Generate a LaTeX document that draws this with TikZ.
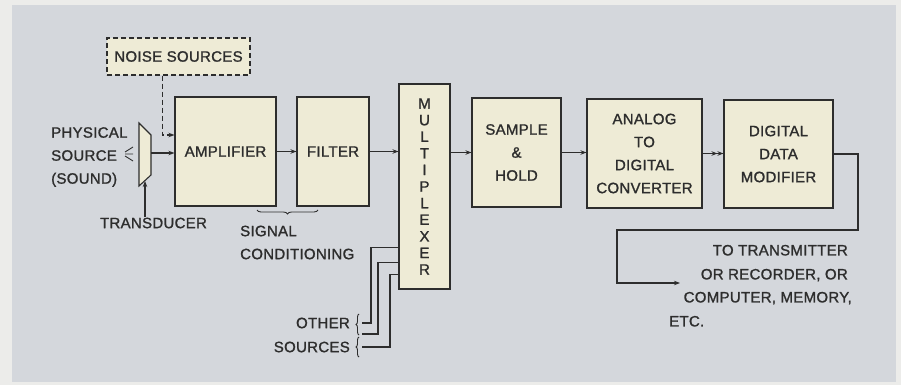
\documentclass[tikz,border=0pt]{standalone}
\usepackage{fontspec}
\setmainfont{Liberation Sans}[LetterSpace=2, FakeBold=1.3]
\usepackage{tikz}
\usetikzlibrary{arrows.meta,positioning,decorations.pathreplacing,calc}
\definecolor{paper}{RGB}{236,236,234}
\definecolor{panel}{RGB}{212,215,220}
\definecolor{cream}{RGB}{238,235,214}
\definecolor{ink}{RGB}{45,45,45}
\tikzset{
	block/.style={
		draw=ink, rectangle, fill=cream, line width=1.1pt,
		inner sep=0pt, text=ink, align=center,
		font=\fontsize{15}{23}\selectfont
	},
	noise_block/.style={block, dash pattern=on 5pt off 3pt},
	caption/.style={
		inner sep=0pt, text=ink,
		font=\fontsize{15}{23}\selectfont
	},
	wire/.style={draw=ink, line width=1.1pt},
	sig_arrow/.style={wire, -{Stealth[length=6pt,width=4.5pt]}},
	dig_arrow/.style={wire, -{Stealth[length=6pt,width=4.5pt]Stealth[length=6pt,width=4.5pt]}},
	brace_line/.style={draw=ink, line width=0.9pt, decorate}
}
\begin{document}
\begin{tikzpicture}[x=1pt,y=-1pt]
	\useasboundingbox (0,0) rectangle (901,385);
	\fill[paper] (0,0) rectangle (901,385);
	\fill[panel] (12,5) rectangle (896,382);

	% blocks
	\node[noise_block, minimum width=143, minimum height=37] (noise) at (178.5,56.5) {NOISE SOURCES};
	\node[block, minimum width=101, minimum height=109] (amp) at (225.5,151.5) {AMPLIFIER};
	\node[block, minimum width=72, minimum height=109] (filt) at (333,151.5) {FILTER};
	\node[block, minimum width=51, minimum height=205, font=\fontsize{15}{16.6}\selectfont] (mux) at (424.5,186.5)
		{M\\U\\L\\T\\I\\P\\L\\E\\X\\E\\R};
	\node[block, minimum width=89, minimum height=109] (sh) at (516.5,152.5) {SAMPLE\\\&\\HOLD};
	\node[block, minimum width=115, minimum height=109] (adc) at (644.5,153.5) {ANALOG\\TO\\DIGITAL\\CONVERTER};
	\node[block, minimum width=109, minimum height=108] (ddm) at (778.5,154) {DIGITAL\\DATA\\MODIFIER};

	% transducer
	\draw[wire, fill=cream] (139,123) -- (151,135) -- (151,175) -- (139,186) -- cycle;
	\coordinate (tdr) at (151,153);
	\coordinate (tdb) at (145,181);
	\draw[wire, line width=0.9pt] (133,147) -- (125,152) (125,154) -- (133,154) (125,156) -- (133,161);

	% labels
	\node[caption, anchor=north west, align=left] (phys) at (51,127) {PHYSICAL\\SOURCE\\(SOUND)};
	\node[caption] (tdlabel) at (153.5,223) {TRANSDUCER};
	\node[caption, anchor=north west, align=left] (cond) at (240,225.5) {SIGNAL\\CONDITIONING};
	\node[caption, anchor=north east, align=right, font=\fontsize{15}{24}\selectfont] (other) at (350,317.5) {OTHER\\SOURCES};
	\node[caption, anchor=base east] (out1) at (848,255.4) {TO TRANSMITTER};
	\node[caption, anchor=base east] (out2) at (848,279.4) {OR RECORDER, OR};
	\node[caption, anchor=base east] (out3) at (852,302.4) {COMPUTER, MEMORY,};
	\node[caption, anchor=base west] (out4) at (669,326.4) {ETC.};

	% signal path
	\path (noise.south west) ++(56,0) coordinate (nz);
	\draw[sig_arrow, dash pattern=on 5pt off 3pt] (nz) |- ($(amp.west)+(0,-16.5)$);
	\draw[sig_arrow] (tdr) -- (amp.west |- tdr);
	\draw[sig_arrow] (tdlabel.north -| tdb) -- (tdb);
	\draw[sig_arrow] (amp) -- (filt);
	\draw[sig_arrow] (filt.east) -- (filt.east -| mux.west);
	\draw[sig_arrow] (mux.east |- sh) -- (sh);
	\draw[sig_arrow] (sh.east) -- (sh.east -| adc.west);
	\draw[dig_arrow] (adc.east) -- (adc.east -| ddm.west);
	\coordinate (outend) at (680,283);
	\draw[sig_arrow] (ddm.east) -| (858,230) -| (617,283) -- (outend);

	% other sources
	\path (mux.south west) ++(0,-42) coordinate (m1) ++(0,15) coordinate (m2) ++(0,12) coordinate (m3);
	\coordinate (os1) at (362,323);
	\coordinate (os2) at (362,334);
	\coordinate (os3) at (362,347);
	\draw[wire] (os1) -- ++(9,0) |- (m1);
	\draw[wire] (os2) -- ++(16,0) |- (m2);
	\draw[wire] (os3) -- ++(28,0) |- (m3);
	\draw[brace_line, decoration={brace, amplitude=3pt}] (359,335) -- (359,314);
	\draw[brace_line, decoration={brace, amplitude=3pt}] (359,357) -- (359,337);

	% signal conditioning brace
	\draw[brace_line, decoration={brace, amplitude=4pt}] (318,210) -- (257,210);
\end{tikzpicture}
\end{document}
